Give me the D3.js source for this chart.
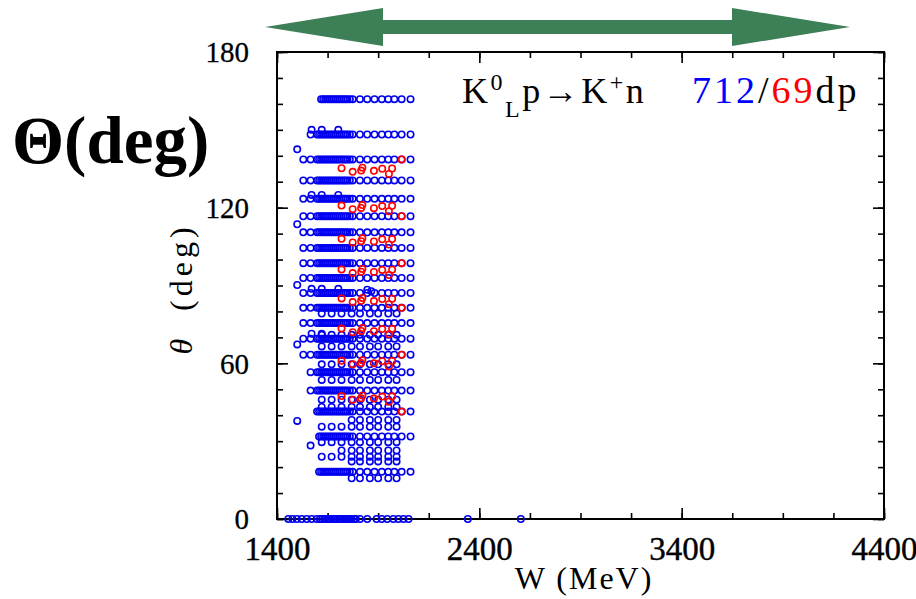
<!DOCTYPE html>
<html>
<head>
<meta charset="utf-8">
<script src="https://cdn.jsdelivr.net/npm/d3@7"></script>
<style>
  body { margin: 0; background: #fff; }
  svg text { font-family: "Liberation Serif", "DejaVu Serif", serif; }
</style>
</head>
<body>
<svg id="chart" width="916" height="599"></svg>
<script>
// ---- data ----
// W values (MeV) of the main measurements, shared by the cos(theta) rows
var wFull = [1530, 1566, 1598, 1608, 1618, 1628, 1638, 1648, 1658, 1668, 1678, 1688, 1698, 1708,
             1718, 1728, 1738, 1748, 1760, 1774, 1810, 1846, 1882, 1918, 1950, 1980, 2016, 2060];
// blue rows: angle (deg) and first W present in that row
var blueAngles = [161.8, 148.2, 138.6, 130.5, 123.4, 116.7, 110.5, 104.5, 98.6, 92.9,
                  87.1, 81.4, 75.5, 69.5, 63.3, 56.6, 49.5, 41.4, 31.8, 18.2];
var blueRowMin = [1616, 1566, 1530, 1530, 1522, 1530, 1530, 1530, 1530, 1530,
                  1530, 1530, 1522, 1522, 1522, 1562, 1562, 1596, 1608, 1608];
// theta = 0 row
var wZero = [1456, 1476, 1498, 1522, 1547, 1571, 1596, 1612, 1624, 1636, 1648, 1660, 1672, 1684,
             1696, 1708, 1720, 1732, 1744, 1756, 1768, 1780, 1790, 1810, 1846, 1892, 1918, 1945,
             1975, 2000, 2025, 2050, 2343, 2605];
// second set of blue points at intermediate angles
var scatterW = [1621, 1670, 1719, 1769, 1810, 1859, 1900, 1950, 1991];
var scatterAngles = [79.2, 71.0, 66.5, 59.6, 53.6, 46.0, 43.2, 38.2, 35.6, 29.6, 26.4, 24.0, 22.2, 15.7];
var scatterMin = [1621, 1621, 1621, 1621, 1621, 1621, 1621, 1769, 1621, 1621, 1719, 1621, 1769, 1769];
// small groups slightly off the main rows
var extraW = [1571, 1621, 1703, 1571, 1621, 1703, 1571, 1621, 1703, 1846, 1866, 1571, 1621,
              1500, 1500, 1500, 1500, 1500, 1566];
var extraTheta = [150.0, 150.0, 150.0, 124.9, 124.9, 124.9, 88.7, 88.7, 88.7, 88.4, 87.8, 71.4, 71.4,
                  142.5, 113.6, 90.2, 67.3, 37.8, 28.3];
// red points
var redAngles = [134.6, 120.2, 107.4, 95.6, 84.4, 72.8, 60.4, 46.8];
var redW = [1719, 1774, 1816, 1822, 1879, 1920, 1953, 1969];
var redShift = [0.6, -0.8, -0.3, 0.8, -0.4, 0.4, -1.6, 0.5];
var redEdgeW = [2016, 2016, 2016, 2016, 2016, 2016];
var redEdgeTheta = [138.6, 116.7, 98.6, 81.4, 63.3, 41.4];

// ticks
var xMajor = [1400, 2400, 3400, 4400];
var yMajor = [0, 60, 120, 180];

// ---- chart ----
var svg = d3.select("#chart");
var fLeft = 277, fRight = 884, fTop = 52, fBottom = 519;

var x = d3.scaleLinear().domain([1400, 4400]).range([fLeft, fRight]);
var y = d3.scaleLinear().domain([0, 180]).range([fBottom, fTop]);

// green double arrow above the frame
svg.append("path")
  .attr("d", "M265,27 L383,8 L383,20 L732,20 L732,8 L850,27 L732,46 L732,34 L383,34 L383,46 Z")
  .attr("fill", "#3d7f57");

var xMinor = d3.range(1400, 4401, 250);
var yMinor = d3.range(0, 181, 10);

function styleAxis(g) {
  g.select(".domain").remove();
  g.selectAll("line").attr("stroke", "#000").attr("stroke-width", 1.6);
}

// minor ticks on all four sides
svg.append("g").attr("transform", "translate(0," + fBottom + ")")
  .call(d3.axisBottom(x).tickValues(xMinor).tickSize(-6).tickFormat(""))
  .call(styleAxis);
svg.append("g").attr("transform", "translate(0," + fTop + ")")
  .call(d3.axisTop(x).tickValues(xMinor).tickSize(-6).tickFormat(""))
  .call(styleAxis);
svg.append("g").attr("transform", "translate(" + fLeft + ",0)")
  .call(d3.axisLeft(y).tickValues(yMinor).tickSize(-6).tickFormat(""))
  .call(styleAxis);
svg.append("g").attr("transform", "translate(" + fRight + ",0)")
  .call(d3.axisRight(y).tickValues(yMinor).tickSize(-6).tickFormat(""))
  .call(styleAxis);

// major ticks + labels
var xb = svg.append("g").attr("transform", "translate(0," + fBottom + ")")
  .call(d3.axisBottom(x).tickValues(xMajor).tickSize(-11).tickFormat(d3.format("d")))
  .call(styleAxis);
xb.selectAll("text").attr("y", 41).attr("dy", 0)
  .attr("font-size", 33).attr("fill", "#000")
  .attr("stroke", "#000").attr("stroke-width", 0.4)
  .style("font-family", "'Liberation Serif', serif");
svg.append("g").attr("transform", "translate(0," + fTop + ")")
  .call(d3.axisTop(x).tickValues(xMajor).tickSize(-11).tickFormat(""))
  .call(styleAxis);
var yl = svg.append("g").attr("transform", "translate(" + fLeft + ",0)")
  .call(d3.axisLeft(y).tickValues(yMajor).tickSize(-11).tickFormat(d3.format("d")))
  .call(styleAxis);
yl.selectAll("text").attr("x", -28).attr("dy", "0.34em")
  .attr("font-size", 29).attr("fill", "#000")
  .attr("stroke", "#000").attr("stroke-width", 0.3)
  .style("font-family", "'Liberation Serif', serif");
svg.append("g").attr("transform", "translate(" + fRight + ",0)")
  .call(d3.axisRight(y).tickValues(yMajor).tickSize(-11).tickFormat(""))
  .call(styleAxis);

// frame
svg.append("rect")
  .attr("x", fLeft).attr("y", fTop)
  .attr("width", fRight - fLeft).attr("height", fBottom - fTop)
  .attr("fill", "none").attr("stroke", "#000").attr("stroke-width", 2);

// build point lists
var bluePts = [];
blueAngles.forEach(function(a, i) {
  wFull.forEach(function(w) {
    if (w >= blueRowMin[i]) bluePts.push({w: w, t: a});
  });
});
wZero.forEach(function(w) { bluePts.push({w: w, t: 0}); });
scatterAngles.forEach(function(a, i) {
  scatterW.forEach(function(w) {
    if (w >= scatterMin[i]) bluePts.push({w: w, t: a});
  });
});
extraW.forEach(function(w, i) { bluePts.push({w: w, t: extraTheta[i]}); });

var redPts = [];
redAngles.forEach(function(a) {
  redW.forEach(function(w, j) { redPts.push({w: w, t: a + redShift[j]}); });
});
redEdgeW.forEach(function(w, i) { redPts.push({w: w, t: redEdgeTheta[i]}); });

var plot = svg.append("g");
plot.selectAll("circle.blue")
  .data(bluePts)
  .enter().append("circle")
    .attr("class", "blue")
    .attr("cx", function(d) { return x(d.w); })
    .attr("cy", function(d) { return y(d.t); })
    .attr("r", 3.2)
    .attr("fill", "none")
    .attr("stroke", "#0000ee")
    .attr("stroke-width", 1.6);
plot.selectAll("circle.red")
  .data(redPts)
  .enter().append("circle")
    .attr("class", "red")
    .attr("cx", function(d) { return x(d.w); })
    .attr("cy", function(d) { return y(d.t); })
    .attr("r", 3.2)
    .attr("fill", "none")
    .attr("stroke", "#ff0000")
    .attr("stroke-width", 1.6);

// axis titles
svg.append("text")
  .attr("x", 584).attr("y", 589)
  .attr("text-anchor", "middle")
  .attr("font-size", 32)
  .attr("letter-spacing", 2)
  .style("white-space", "pre")
  .text("W (MeV)");

svg.append("text")
  .attr("transform", "translate(192,289) rotate(-90)")
  .attr("text-anchor", "middle")
  .attr("font-size", 32)
  .attr("letter-spacing", 4)
  .style("white-space", "pre")
  .html('<tspan font-style="italic">θ</tspan>  (deg)');

svg.append("text")
  .attr("x", 12).attr("y", 163)
  .attr("font-size", 67)
  .attr("font-weight", "bold")
  .text("Θ(deg)");

// reaction label
var r = svg.append("text").attr("x", 462).attr("y", 103).attr("font-size", 36)
  .attr("letter-spacing", 2.5);
r.append("tspan").text("K");
r.append("tspan").attr("font-size", 24).attr("dy", -13).text("0");
r.append("tspan").attr("font-size", 24).attr("dy", 27).text("L");
r.append("tspan").attr("dy", -14).text("p→K");
r.append("tspan").attr("font-size", 24).attr("dy", -13).text("+");
r.append("tspan").attr("dy", 13).text("n");

// point counts, one string with coloured parts
var c = svg.append("text").attr("x", 692).attr("y", 103).attr("font-size", 38)
  .attr("letter-spacing", 3);
c.append("tspan").attr("fill", "#0000ff").text("712");
c.append("tspan").attr("fill", "#000").text("/");
c.append("tspan").attr("fill", "#ff0000").text("69");
c.append("tspan").attr("fill", "#000").text("dp");
</script>
</body>
</html>
